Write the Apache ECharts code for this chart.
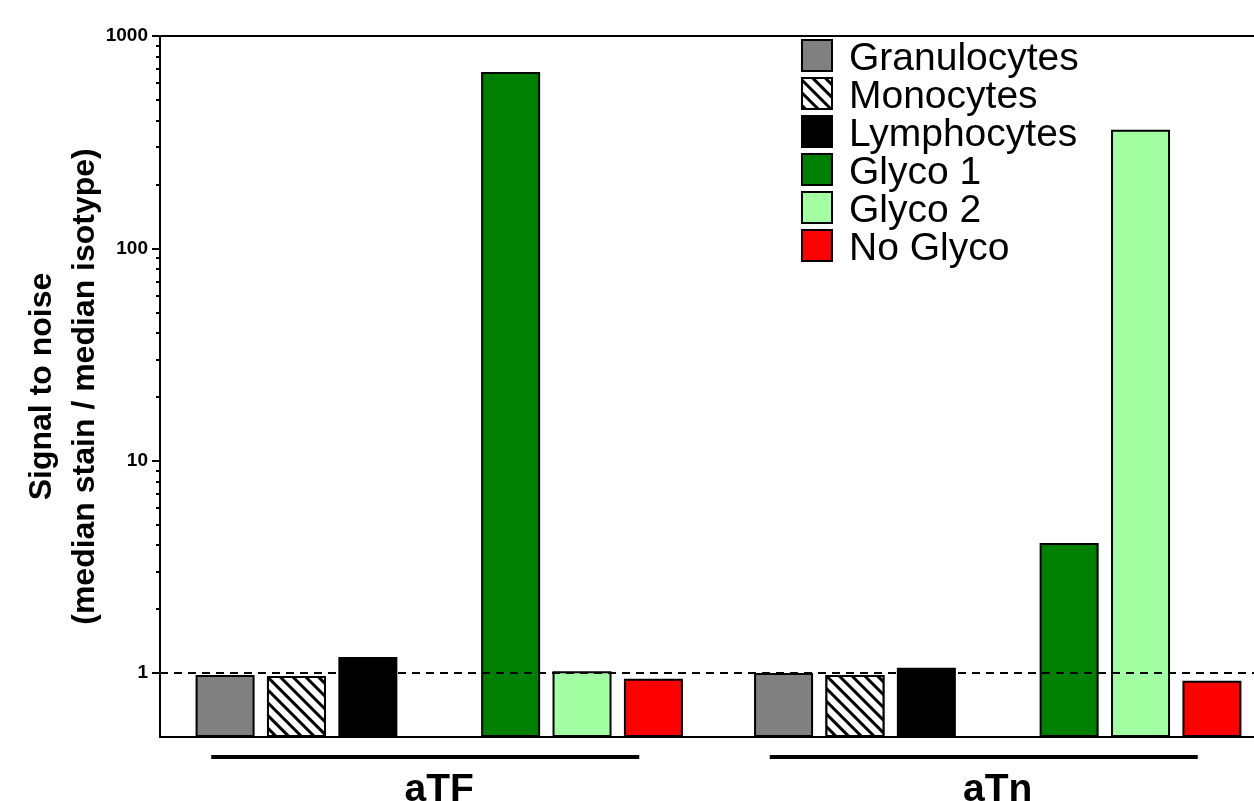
<!DOCTYPE html>
<html>
<head>
<meta charset="utf-8">
<script src="https://cdn.jsdelivr.net/npm/echarts@6/dist/echarts.min.js"></script>
<style>html,body{margin:0;padding:0;background:#fff}#c{width:1254px;height:801px}</style>
</head>
<body>
<div id="c"></div>
<script>
const categories = ['aTF', 'aTn'];
const seriesNames = ['Granulocytes', 'Monocytes', 'Lymphocytes', 'Glyco 1', 'Glyco 2', 'No Glyco'];
const granulocytes = [0.98, 1.0];
const monocytes = [0.97, 0.98];
const lymphocytes = [1.19, 1.06];
const glyco1 = [676, 4.1];
const glyco2 = [1.02, 362];
const noGlyco = [0.94, 0.92];
const majorTicks = [1, 10, 100, 1000];
const minorTicks = [2,3,4,5,6,7,8,9,20,30,40,50,60,70,80,90,200,300,400,500,600,700,800,900];
const refLine = 1;
const axisMin = 0.5;
const axisMax = 1000;

const FONT = 'Liberation Sans, Arial, sans-serif';
const chart = echarts.init(document.getElementById('c'));

function bar(name, data, color, extra) {
  return Object.assign({
    name: name, type: 'bar', data: data, barWidth: 59, barGap: '21%',
    itemStyle: { color: color, borderColor: '#000', borderWidth: 2 }
  }, extra || {});
}

const series = [
  bar(seriesNames[0], granulocytes, '#808080'),
  bar(seriesNames[1], monocytes, '#ffffff', {
    itemStyle: { color: '#ffffff', borderColor: '#000', borderWidth: 2,
      decal: { symbol: 'rect', symbolSize: 1, dashArrayX: [[1, 0]], dashArrayY: [2.8, 5.8], rotation: Math.PI / 4, color: '#000', backgroundColor: '#fff' } }
  }),
  bar(seriesNames[2], lymphocytes, '#000000'),
  bar('gap', [null, null], 'transparent'),
  bar(seriesNames[3], glyco1, '#008000'),
  bar(seriesNames[4], glyco2, '#a2ffa2'),
  bar(seriesNames[5], noGlyco, '#ff0000', {
    markLine: { silent: true, symbol: 'none', label: { show: false },
      lineStyle: { type: [8, 6], color: '#000', width: 2 }, data: [{ yAxis: refLine }] }
  })
];

chart.setOption({
  animation: false,
  grid: { left: 160, top: 36, width: 1117, bottom: 64, outerBoundsMode: 'none', containLabel: false,
    show: true, borderColor: '#000', borderWidth: 2, backgroundColor: 'transparent' },
  legend: {
    data: seriesNames, orient: 'vertical', left: 801, top: 36, padding: 0,
    itemWidth: 30, itemHeight: 31, itemGap: -5, icon: 'rect',
    formatter: n => '{t|' + n + '}',
    textStyle: {
      rich: { t: { fontFamily: FONT, fontSize: 39, color: '#000', lineHeight: 31, height: 31, padding: [8, 0, 0, 12] } }
    }
  },
  xAxis: {
    type: 'category', data: categories,
    axisLine: { lineStyle: { color: '#000', width: 2 } },
    axisTick: { show: false },
    axisLabel: {
      margin: 18,
      formatter: v => '{line| }{sp| }\n{name|' + v + '}',
      rich: {
        line: { width: 428, height: 4, lineHeight: 4, fontSize: 1, backgroundColor: '#000' },
        sp: { width: 28, height: 4, lineHeight: 4, fontSize: 1 },
        name: { fontFamily: FONT, fontSize: 39, fontWeight: 'bold', color: '#000', lineHeight: 62 }
      }
    }
  },
  yAxis: [{
    type: 'log', logBase: 10, min: axisMin, max: axisMax, startValue: axisMin,
    name: 'Signal to noise\n(median stain / median isotype)',
    nameLocation: 'middle', nameGap: 53, nameMoveOverlap: false,
    nameTextStyle: { fontFamily: FONT, fontSize: 32, fontWeight: 'bold', color: '#000', lineHeight: 43, align: 'center' },
    axisLine: { show: true, lineStyle: { color: '#000', width: 2 } },
    axisTick: { show: true, length: 8, lineStyle: { color: '#000', width: 2 }, customValues: majorTicks },
    axisLabel: { fontFamily: FONT, fontSize: 19, fontWeight: 'bold', color: '#000', margin: 12,
      customValues: majorTicks, formatter: v => String(v) },
    splitLine: { show: false }
  }, {
    type: 'log', logBase: 10, min: axisMin, max: axisMax, position: 'left',
    axisLine: { show: false },
    axisTick: { show: true, length: 4, lineStyle: { color: '#000', width: 2 }, customValues: minorTicks },
    axisLabel: { show: false },
    splitLine: { show: false }
  }],
  series: series
});
</script>
</body>
</html>
